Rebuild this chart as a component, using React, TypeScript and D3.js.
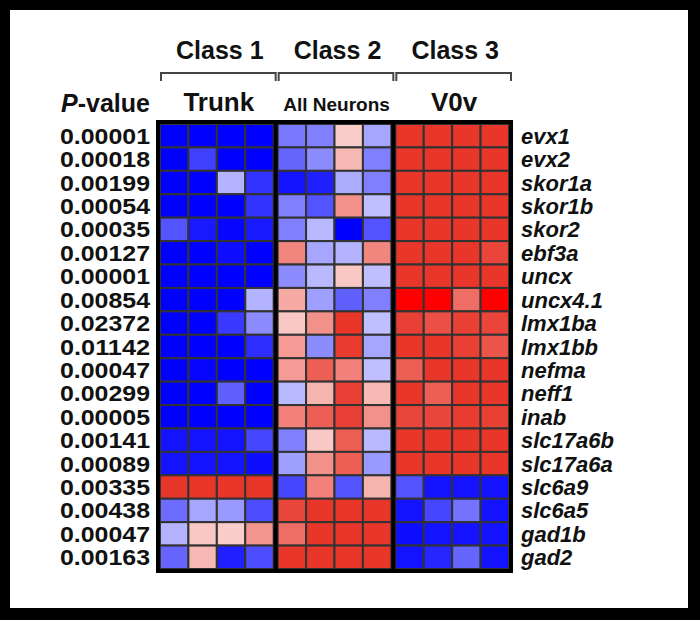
import * as d3 from "d3";

const groups = ["Class 1", "Class 2", "Class 3"];
const subtitles = ["Trunk", "All Neurons", "V0v"];
const columns = ["c1", "c2", "c3", "c4"];

const genes = [
  "evx1", "evx2", "skor1a", "skor1b", "skor2", "ebf3a", "uncx", "uncx4.1",
  "lmx1ba", "lmx1bb", "nefma", "neff1", "inab", "slc17a6b", "slc17a6a",
  "slc6a9", "slc6a5", "gad1b", "gad2",
];

const pValues = [
  "0.00001", "0.00018", "0.00199", "0.00054", "0.00035", "0.00127", "0.00001",
  "0.00854", "0.02372", "0.01142", "0.00047", "0.00299", "0.00005", "0.00141",
  "0.00089", "0.00335", "0.00438", "0.00047", "0.00163",
];

// relative expression, one row per gene: Trunk x4 | All Neurons x4 | V0v x4
const trunk = [
  [-2, -2, -2, -2],
  [-2, -1.5, -2, -2],
  [-2, -2, -0.6, -1.6],
  [-2, -2, -2, -1.6],
  [-1.35, -1.8, -1.95, -1.8],
  [-2, -2, -1.9, -2],
  [-2, -2, -2, -2],
  [-2, -2, -2, -0.6],
  [-2, -2, -1.55, -0.9],
  [-2, -2, -2, -1.65],
  [-2, -1.95, -2, -2],
  [-2, -2, -1.25, -2],
  [-2, -2, -2, -2],
  [-1.85, -1.85, -1.85, -1.45],
  [-1.85, -1.85, -1.85, -1.9],
  [2, 2, 2, 2],
  [-1.15, -0.7, -0.8, -1.4],
  [-0.6, 0.55, 0.5, 1.05],
  [-1.2, 0.7, -1.75, -1.4],
];

const allNeurons = [
  [-1.05, -1.0, 0.5, -0.7],
  [-1.2, -0.9, 0.7, -1.0],
  [-1.85, -1.75, -0.65, -1.0],
  [-1.0, -1.35, 1.1, -0.5],
  [-1.0, -0.55, -2, -1.35],
  [1.2, -0.7, -0.6, 1.2],
  [-0.9, -0.55, 0.55, -0.5],
  [0.85, -0.75, -1.25, -1.0],
  [0.55, 1.1, 2, -0.5],
  [1.0, -0.9, 1.95, -0.7],
  [1.0, 1.6, 1.25, -0.5],
  [-0.55, 0.75, 1.9, 0.7],
  [1.25, 1.6, 1.9, 1.1],
  [-1.0, 0.55, 1.6, -0.55],
  [-0.75, 1.1, 1.6, -0.8],
  [-1.45, 1.25, -1.35, 0.75],
  [1.85, 2, 2, 2],
  [1.45, 2, 2, 2],
  [2, 2, 2, 2],
];

const v0v = [
  [2, 2, 2, 2],
  [2, 2, 2, 2],
  [2, 2, 2, 2],
  [2, 2, 2, 2],
  [2, 2, 2, 2],
  [2, 2, 2, 1.85],
  [2, 2, 2, 2],
  [3, 3, 1.45, 3],
  [1.9, 1.75, 1.9, 1.85],
  [2, 2, 1.9, 1.7],
  [1.6, 2, 2, 2],
  [2, 1.6, 2, 2],
  [1.85, 1.85, 1.95, 1.9],
  [2, 2, 2, 2],
  [2, 2, 2, 2],
  [-1.35, -1.85, -1.85, -1.85],
  [-1.85, -1.45, -1.1, -1.85],
  [-1.9, -1.85, -1.85, -1.85],
  [-1.85, -1.7, -1.2, -1.85],
];

const matrices = [trunk, allNeurons, v0v];

const width = 700;
const height = 620;
const font = "'Liberation Sans', Arial, sans-serif";

export default function App() {
  const left = 160, right = 509, top = 124, bottom = 569;

  const xGroup = d3.scaleBand<string>().domain(groups).range([left, right]).paddingInner(0.034);
  const xCol = d3.scaleBand<string>().domain(columns).range([0, xGroup.bandwidth()]);
  const y = d3.scaleBand<string>().domain(genes).range([top, bottom]);

  const color = d3
    .scaleLinear<string>()
    .domain([-2, 0, 2, 3])
    .range(["#0000ff", "#ffffff", "#e8362a", "#ff0000"])
    .clamp(true);

  const gap = (xGroup.step() - xGroup.bandwidth()) / 2;

  return (
    <svg width={width} height={height} style={{ position: "absolute", left: 0, top: 0 }}>
      <rect x={0} y={0} width={width} height={height} fill="#000" />
      <rect x={10} y={10} width={678} height={598} fill="#fff" />

      {groups.map((g, gi) => {
        const x0 = xGroup(g)!;
        const x1 = x0 + xGroup.bandwidth();
        const cx = (x0 + x1) / 2;
        return (
          <g key={g}>
            <text x={cx + 3} y={59} textAnchor="middle" fontFamily={font} fontWeight="bold" fontSize={25} fill="#111">
              {g}
            </text>
            <path
              d={`M${x0 + 1},81V73H${x1 + 2}V81`}
              fill="none"
              stroke="#444"
              strokeWidth={2}
            />
            <text
              x={cx + 2}
              y={111}
              textAnchor="middle"
              fontFamily={font}
              fontWeight="bold"
              fontSize={gi === 1 ? 19 : 26}
              fill="#111"
            >
              {subtitles[gi]}
            </text>
            {matrices[gi].map((row, ri) =>
              row.map((v, ci) => (
                <rect
                  key={`${ri}-${ci}`}
                  x={x0 + xCol(columns[ci])!}
                  y={y(genes[ri])!}
                  width={xCol.bandwidth()}
                  height={y.bandwidth()}
                  fill={color(v)}
                  stroke="#333"
                  strokeWidth={2}
                />
              ))
            )}
          </g>
        );
      })}

      <rect x={left - 2} y={top - 2} width={right - left + 4} height={bottom - top + 4} fill="none" stroke="#000" strokeWidth={4} />
      {groups.slice(1).map((g) => (
        <line key={g} x1={xGroup(g)! - gap} x2={xGroup(g)! - gap} y1={top - 2} y2={bottom + 2} stroke="#000" strokeWidth={4} />
      ))}

      <text x={150} y={112} textAnchor="end" fontFamily={font} fontWeight="bold" fontSize={25} fill="#111">
        <tspan fontStyle="italic">P</tspan>-value
      </text>

      {genes.map((gene, i) => {
        const cy = y(gene)! + y.bandwidth() / 2 + 8;
        return (
          <g key={gene}>
            <text
              x={150}
              y={cy}
              textAnchor="end"
              fontFamily={font}
              fontWeight="bold"
              fontSize={22}
              textLength={90}
              lengthAdjust="spacingAndGlyphs"
              fill="#111"
            >
              {pValues[i]}
            </text>
            <text x={521} y={cy} fontFamily={font} fontWeight="bold" fontStyle="italic" fontSize={22} fill="#111">
              {gene}
            </text>
          </g>
        );
      })}
    </svg>
  );
}
